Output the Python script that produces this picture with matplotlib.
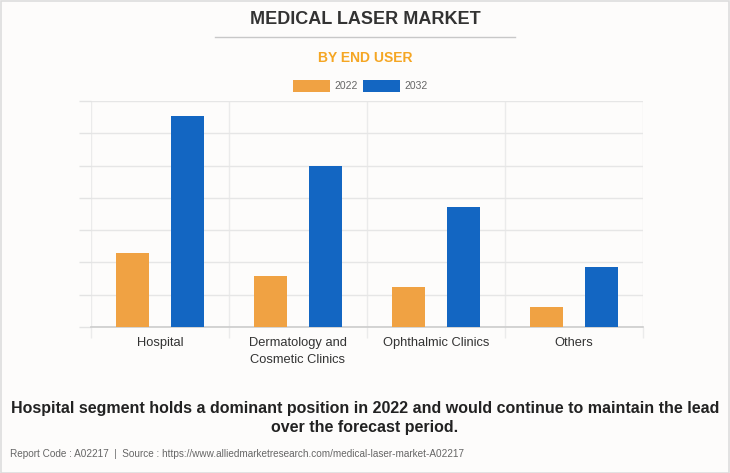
import matplotlib
matplotlib.use("Agg")
import matplotlib.pyplot as plt
import numpy as np
from matplotlib.patches import Rectangle
from matplotlib.lines import Line2D

plt.rcParams["font.family"] = ["Liberation Sans", "DejaVu Sans"]

categories = ["Hospital", "Dermatology and\nCosmetic Clinics", "Ophthalmic Clinics", "Others"]
series_names = ["2022", "2032"]
values_2022 = [2.30, 1.58, 1.23, 0.62]
values_2032 = [6.53, 4.98, 3.72, 1.86]
colors = ["#f0a243", "#1366c2"]

W, H = 730, 473
fig = plt.figure(figsize=(W / 100, H / 100), dpi=100)
fig.patch.set_facecolor("#fdfcfb")

# outer border
fig.add_artist(Rectangle((0.5 / W, 0.5 / H), 1 - 1.5 / W, 1 - 1.5 / H, transform=fig.transFigure,
                         fill=False, edgecolor="#dddddd", linewidth=1.2))

def fx(px):
    return px / W

def fy(py):
    return 1 - py / H

# axes: x from 91 to 643, y from 101 to 327
ax = fig.add_axes([fx(91), fy(327), fx(643) - fx(91), fy(101) - fy(327)])
ax.set_facecolor("#fdfcfb")
n = len(categories)
x = np.arange(n)
off = 0.2
bw = 0.24
ax.bar(x - off, values_2022, bw, color=colors[0], zorder=3)
ax.bar(x + off, values_2032, bw, color=colors[1], zorder=3)
ax.set_xlim(-0.5, n - 0.5)
ax.set_ylim(0, 7)
ax.set_yticks(np.arange(0, 8, 1))
ax.set_yticklabels([])
ax.tick_params(axis="y", length=9, color="#e3e3e3", width=1)
ax.set_xticks(x)
ax.set_xticks(np.arange(-0.5, n, 1), minor=True)
ax.tick_params(axis="x", which="major", length=0, pad=7)
ax.tick_params(axis="x", which="minor", length=8, color="#ebebeb", width=1)
ax.set_xticklabels(categories, fontsize=9.3, color="#333333", linespacing=1.6)
ax.grid(axis="y", color="#e6e6e6", linewidth=1, zorder=0)
for b in np.arange(-0.5, n, 1):
    ax.axvline(b, color="#ebebeb", linewidth=1, zorder=0)
for s in ["top", "right", "left"]:
    ax.spines[s].set_visible(False)
ax.spines["bottom"].set_color("#cccccc")
ax.spines["bottom"].set_linewidth(1.2)

# Title
fig.text(0.5, fy(20), "MEDICAL LASER MARKET", ha="center", va="center",
         fontsize=13, fontweight="bold", color="#333333")
fig.add_artist(Line2D([fx(215), fx(515)], [fy(37.5), fy(37.5)], transform=fig.transFigure,
                      color="#c8c8c8", linewidth=1))
fig.text(0.5, fy(58), "BY END USER", ha="center", va="center",
         fontsize=10, fontweight="bold", color="#f5a623")

# Legend
for (x0, name, c) in [(293, series_names[0], colors[0]), (363, series_names[1], colors[1])]:
    fig.add_artist(Rectangle((fx(x0), fy(92)), fx(37), fy(80) - fy(92), transform=fig.transFigure,
                             facecolor=c, edgecolor="none"))
    fig.text(fx(x0 + 41), fy(86), name, ha="left", va="center", fontsize=7.5, color="#666666")

# Caption
fig.text(0.5, fy(418), "Hospital segment holds a dominant position in 2022 and would continue to maintain the lead\nover the forecast period.",
         ha="center", va="center", fontsize=11.5, fontweight="bold", color="#222222", linespacing=1.4)
fig.text(fx(10), fy(454), "Report Code : A02217  |  Source : https://www.alliedmarketresearch.com/medical-laser-market-A02217",
         ha="left", va="center", fontsize=7.2, color="#666666")

fig.savefig("out.png", dpi=100, facecolor=fig.get_facecolor())
